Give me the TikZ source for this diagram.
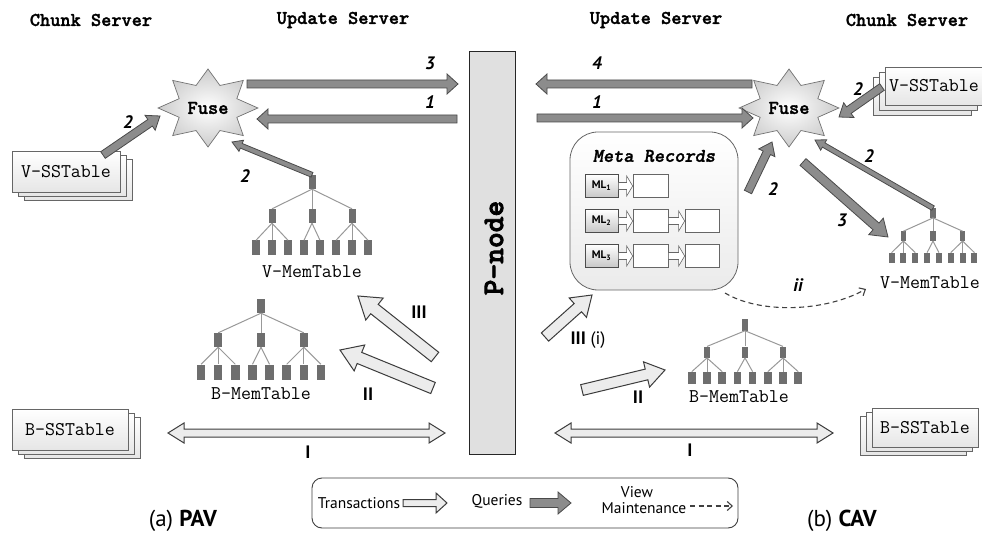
\documentclass[tikz,border=0pt]{standalone}
\usepackage{fontspec}
\setmainfont{PT Sans}
\newfontfamily\ttb[FakeBold=1.6]{lmmonolt10-bold.otf}
\newfontfamily\ttbb[FakeBold=2.6]{lmmonolt10-bold.otf}
\newfontfamily\ttbi[FakeBold=1.4]{lmmonolt10-boldoblique.otf}
\usetikzlibrary{calc,shapes.geometric,arrows.meta}

\definecolor{qfill}{HTML}{8C8C8C}
\definecolor{qdraw}{HTML}{4A4A4A}
\definecolor{tfill}{HTML}{ECECEC}
\definecolor{tdraw}{HTML}{3C3C3C}
\definecolor{treenode}{HTML}{6E6E6E}
\definecolor{treeline}{HTML}{999999}
\definecolor{pfill}{HTML}{E0E0E0}

\newcommand\fsz[1]{\fontsize{#1}{#1}\selectfont}

% block arrow: style, from, to, half shaft, half head, head length
\newcommand\blockarrow[6]{%
  \coordinate (bac) at ($(#3)!#6!(#2)$);
  \draw[#1] ($(#2)!#4!90:(#3)$) -- ($(bac)!#4!90:(#3)$) -- ($(bac)!#5!90:(#3)$) -- (#3)
    -- ($(bac)!#5!-90:(#3)$) -- ($(bac)!#4!-90:(#3)$) -- ($(#2)!#4!-90:(#3)$) -- cycle;
}
% double block arrow
\newcommand\dblarrow[6]{%
  \coordinate (dac) at ($(#3)!#6!(#2)$);
  \coordinate (dad) at ($(#2)!#6!(#3)$);
  \draw[#1] (#2) -- ($(dad)!#5!90:(#3)$) -- ($(dad)!#4!90:(#3)$) -- ($(dac)!#4!90:(#3)$)
    -- ($(dac)!#5!90:(#3)$) -- (#3) -- ($(dac)!#5!-90:(#3)$) -- ($(dac)!#4!-90:(#3)$)
    -- ($(dad)!#4!-90:(#3)$) -- ($(dad)!#5!-90:(#3)$) -- cycle;
}
% tree: name, x, y, xscale, yscale
\newcommand\memtree[5]{%
  \begin{scope}[shift={(#2,#3)}, xscale=#4, yscale=#5, transform shape]
    \node[tnode] (#1-r) at (0,0) {};
    \node[tnode] (#1-a) at (-40,34) {};
    \node[tnode] (#1-b) at (0,34) {};
    \node[tnode] (#1-c) at (40,34) {};
    \foreach \i/\x in {1/-56,2/-40,3/-24,4/-8,5/8,6/24,7/40,8/56}
      \node[tleaf] (#1-l\i) at (\x,66) {};
    \foreach \m in {a,b,c} \draw[tline] (#1-r.south) -- (#1-\m.north);
    \foreach \l in {1,2,3} \draw[tline] (#1-a.south) -- (#1-l\l.north);
    \foreach \l in {4,5} \draw[tline] (#1-b.south) -- (#1-l\l.north);
    \foreach \l in {6,7,8} \draw[tline] (#1-c.south) -- (#1-l\l.north);
  \end{scope}}
% stacked table: name, x, y, text, dx, dy, width, height
\newcommand\sstack[8]{%
  \node[sst, minimum width=#7, minimum height=#8] (#1-b2) at ({#2+2*(#5)},{#3+2*(#6)}) {};
  \node[sst, minimum width=#7, minimum height=#8] (#1-b1) at ({#2+(#5)},{#3+(#6)}) {};
  \node[sst, minimum width=#7, minimum height=#8] (#1) at (#2,#3) {#4};
}

\tikzset{
  hdr/.style={font=\ttb\fsz{19.4}},
  mono/.style={font=\ttfamily\fsz{19.4}},
  qarr/.style={fill=qfill, draw=qdraw, line width=0.8pt},
  tarr/.style={fill=tfill, draw=tdraw, line width=1pt},
  marr/.style={fill=white, draw=black!60, line width=0.6pt},
  num/.style={font=\bfseries\itshape\fsz{18}},
  roman/.style={font=\bfseries\fsz{18}},
  sst/.style={draw=black!60, line width=0.7pt, top color=white, bottom color=black!10,
    inner sep=0pt, font=\ttfamily\fsz{19.4}},
  tnode/.style={rectangle, fill=treenode, minimum width=7pt, minimum height=14pt, inner sep=0pt},
  tleaf/.style={rectangle, fill=treenode, minimum width=8pt, minimum height=15pt, inner sep=0pt},
  tline/.style={draw=treeline, line width=1pt},
  fusestar/.style={star, star points=8, star point ratio=1.6, minimum size=78pt, inner sep=0pt,
    draw=black!55, line width=0.7pt, inner color=white, outer color=black!20, xscale=1.28},
  fuset/.style={font=\ttb\fsz{19.5}},
  vmarr/.style={draw=black!75, line width=1.1pt, dashed, dash pattern=on 5pt off 3.5pt,
    -{Straight Barb[length=5pt,width=9pt]}},
}

\begin{document}
\begin{tikzpicture}[x=1pt,y=-1pt]
\useasboundingbox (0,0) rectangle (982,537);
\clip (0,0) rectangle (982,537);
\fill[white] (0,0) rectangle (982,537);

% headers
\node[hdr] (hcl) at (91,20) {Chunk Server};
\node[hdr] (hul) at (343,20) {Update Server};
\node[hdr] (hur) at (656,20) {Update Server};
\node[hdr] (hcr) at (907,20) {Chunk Server};

% P-node
\node[draw=black!85, line width=1pt, fill=pfill, minimum width=46pt, minimum height=402pt, inner sep=0pt] (pn) at (492,253) {};
\node[font=\ttbb\fsz{30}, rotate=90] (pnt) at (494,248) {P-node};

% Fuse stars
\node[fusestar] (fl) at (208,108) {};
\node[fuset] (flt) at (208,108) {Fuse};
\node[fusestar] (fr) at (789,108) {};
\node[fuset] (frt) at (789,108) {Fuse};

% SSTables
\sstack{vsl}{66}{172}{V-SSTable}{6}{4}{108pt}{41pt}
\sstack{bsl}{70}{430}{B-SSTable}{6}{4}{116pt}{41pt}
\sstack{vsr}{934}{86}{V-SSTable}{-6}{5}{98pt}{38pt}
\sstack{bsr}{925}{428}{B-SSTable}{-6}{4}{106pt}{39pt}

% Trees
\memtree{vl}{312}{182}{1}{1}
\memtree{bl}{261}{306}{1.07}{1}
\memtree{br}{745}{325}{0.95}{0.8}
\memtree{vr}{933}{213}{0.74}{0.68}
\node[mono] (vl-lab) at (312,272) {V-MemTable};
\node[mono] (bl-lab) at (261,394) {B-MemTable};
\node[mono] (br-lab) at (739,397) {B-MemTable};
\node[mono] (vr-lab) at (930,283) {V-MemTable};

% Meta records
\node[draw=black!60, line width=0.8pt, rounded corners=28pt, top color=white, bottom color=black!8,
  minimum width=168pt, minimum height=158pt, inner sep=0pt] (mr) at (654,211) {};
\node[font=\ttbi\fsz{19.4}] (mrt) at (654,156) {Meta Records};
\tikzset{mlbox/.style={draw=black!70, line width=0.7pt, top color=white, bottom color=black!22,
   minimum width=33pt, minimum height=23pt, inner sep=0pt, font=\bfseries\fsz{11}},
  rbox/.style={draw=black!60, line width=0.7pt, fill=white, minimum height=23pt, inner sep=0pt}}
\node[mlbox] (ml1) at (601.5,186) {ML\textsubscript{1}};
\node[mlbox] (ml2) at (601.5,221) {ML\textsubscript{2}};
\node[mlbox] (ml3) at (601.5,256) {ML\textsubscript{3}};
\node[rbox, minimum width=35pt] (r1a) at (650.5,186) {};
\node[rbox, minimum width=35pt] (r2a) at (650.5,221) {};
\node[rbox, minimum width=34pt] (r2b) at (702,221) {};
\node[rbox, minimum width=35pt] (r3a) at (650.5,256) {};
\node[rbox, minimum width=34pt] (r3b) at (702,256) {};
\blockarrow{marr}{ml1.east}{r1a.west}{3.5pt}{10pt}{6pt}
\blockarrow{marr}{ml2.east}{r2a.west}{3.5pt}{10pt}{6pt}
\blockarrow{marr}{r2a.east}{r2b.west}{3.5pt}{10pt}{6pt}
\blockarrow{marr}{ml3.east}{r3a.west}{3.5pt}{10pt}{6pt}
\blockarrow{marr}{r3a.east}{r3b.west}{3.5pt}{10pt}{6pt}

% ---- query arrows, left
\coordinate (a3s) at (247,84);  \coordinate (a3e) at (458,84);
\coordinate (a1s) at (457,119); \coordinate (a1e) at (257,119);
\coordinate (a2s) at (103,155); \coordinate (a2e) at (160,116);
\coordinate (a2be) at (232,142);
\blockarrow{qarr}{a3s}{a3e}{4pt}{10pt}{11pt}
\blockarrow{qarr}{a1s}{a1e}{4pt}{10pt}{11pt}
\blockarrow{qarr}{a2s}{a2e}{4pt}{9pt}{12pt}
\blockarrow{qarr}{vl-r.north}{a2be}{2.5pt}{6pt}{10pt}
\node[num] (n3l) at (430,63) {3};
\node[num] (n1l) at (430,102) {1};
\node[num] (n2l) at (128,122) {2};
\node[num] (n2bl) at (245,176) {2};

% ---- query arrows, right
\coordinate (b4s) at (752,84);  \coordinate (b4e) at (536,84);
\coordinate (b1s) at (537,118); \coordinate (b1e) at (753,118);
\coordinate (b2as) at (882,87); \coordinate (b2ae) at (839,117);
\coordinate (b2bs) at (748,192); \coordinate (b2be) at (772,142);
\coordinate (b2ce) at (815,140);
\coordinate (b3s) at (803,162); \coordinate (b3e) at (888,237);
\blockarrow{qarr}{b4s}{b4e}{4pt}{10pt}{11pt}
\blockarrow{qarr}{b1s}{b1e}{4pt}{10pt}{11pt}
\blockarrow{qarr}{b2as}{b2ae}{4pt}{9pt}{12pt}
\blockarrow{qarr}{b2bs}{b2be}{4pt}{9pt}{12pt}
\blockarrow{qarr}{vr-r.north}{b2ce}{2.5pt}{6pt}{10pt}
\blockarrow{qarr}{b3s}{b3e}{4.5pt}{11pt}{16pt}
\node[num] (n4r) at (597,63) {4};
\node[num] (n1r) at (597,102) {1};
\node[num] (n2ar) at (858,89) {2};
\node[num] (n2br) at (773,189) {2};
\node[num] (n2cr) at (869,156) {2};
\node[num] (n3r) at (842,220) {3};

% ---- transaction arrows, left
\coordinate (t3s) at (435,357); \coordinate (t3e) at (358,296);
\coordinate (t2s) at (433,388); \coordinate (t2e) at (340,350);
\coordinate (t1a) at (168,433); \coordinate (t1b) at (445,433);
\blockarrow{tarr}{t3s}{t3e}{6pt}{14pt}{21pt}
\blockarrow{tarr}{t2s}{t2e}{6pt}{14pt}{21pt}
\dblarrow{tarr}{t1a}{t1b}{4pt}{10pt}{16pt}
\node[roman] (r3l) at (419,312) {III};
\node[roman] (r2l) at (368,394) {II};
\node[roman] (r1l) at (308,452) {I};

% ---- transaction arrows, right
\coordinate (u3s) at (545,337); \coordinate (u3e) at (592,295);
\coordinate (u2s) at (582,390); \coordinate (u2e) at (665,370);
\coordinate (u1a) at (555,433); \coordinate (u1b) at (833,433);
\blockarrow{tarr}{u3s}{u3e}{5.5pt}{13pt}{19pt}
\blockarrow{tarr}{u2s}{u2e}{5.5pt}{13pt}{19pt}
\dblarrow{tarr}{u1a}{u1b}{4pt}{10pt}{16pt}
\node[roman] (r3r) at (588,340) {III {\mdseries(i)}};
\node[roman] (r2r) at (638,397) {II};
\node[roman] (r1r) at (690,450) {I};

% ---- view maintenance
\coordinate (iis) at (725,293); \coordinate (iie) at (866,289);
\draw[vmarr] (iis) .. controls (760,314) and (825,312) .. (iie);
\node[num] (nii) at (798,285) {ii};

% ---- legend
\node[draw=black!75, line width=0.9pt, rounded corners=10pt, minimum width=426pt, minimum height=50pt, inner sep=0pt] (leg) at (525,503) {};
\node[font=\fsz{15.5}] (lgt) at (359,503) {Transactions};
\coordinate (lgts) at (403,503); \coordinate (lgte) at (447,503);
\blockarrow{tarr}{lgts}{lgte}{3.5pt}{10pt}{11pt}
\node[font=\fsz{15.5}] (lgq) at (497,501) {Queries};
\coordinate (lgqs) at (530,503); \coordinate (lgqe) at (571,503);
\blockarrow{qarr}{lgqs}{lgqe}{4.5pt}{11pt}{13pt}
\node[font=\fsz{15.5}, align=center, inner sep=0pt] (lgv) at (644,500) {\hspace*{-14pt}View\\Maintenance};
\coordinate (lgvs) at (690,506); \coordinate (lgve) at (733,506);
\draw[vmarr] (lgvs) -- (lgve);

% captions
\node[font=\fsz{23}] (capa) at (183,521) {(a) \textbf{PAV}};
\node[font=\fsz{23}] (capb) at (842,521) {(b) \textbf{CAV}};
\end{tikzpicture}
\end{document}
